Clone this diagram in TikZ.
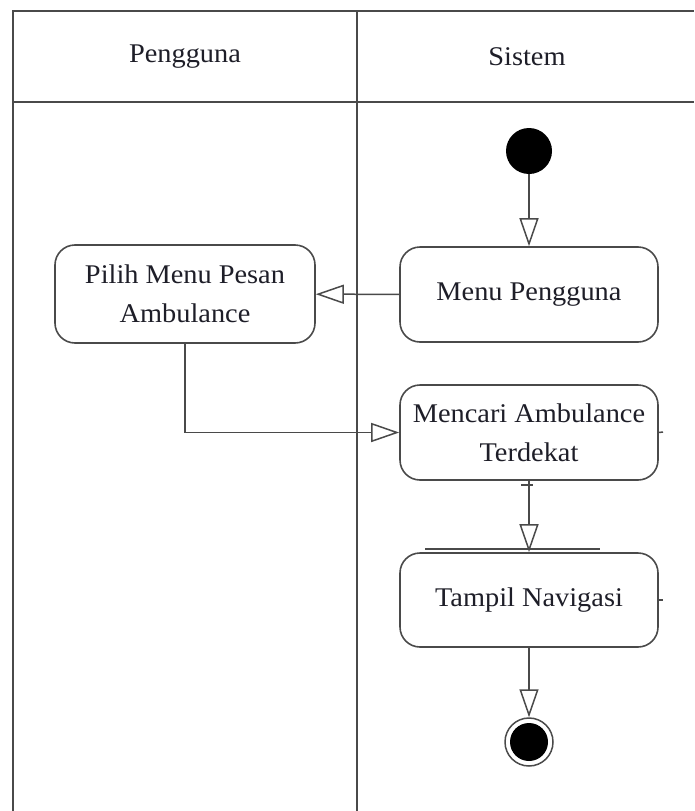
\documentclass[tikz,border=0pt]{standalone}
\usepackage{fontspec}
\setmainfont{Liberation Serif}[FakeStretch=1.05]
\usetikzlibrary{arrows.meta}
\definecolor{linegray}{HTML}{4A4A4A}
\definecolor{textdark}{HTML}{1E1E28}
\begin{document}
\begin{tikzpicture}[x=1pt,y=-1pt,
  lane/.style={draw=linegray,line width=2pt},
  action/.style={draw=linegray,line width=1.6pt,rounded corners=20pt,fill=white,
    align=center,text=textdark,inner sep=0pt,
    font=\fontsize{27}{39}\selectfont},
  flow/.style={draw=linegray,line width=1.5pt,
    -{Triangle[open,length=28pt,width=19pt,line width=1.5pt]}},
  tick/.style={draw=linegray,line width=1.5pt},
  lanetitle/.style={text=textdark,font=\fontsize{27}{32}\selectfont}]
\useasboundingbox (0,0) rectangle (694,811);
\fill[white] (0,0) rectangle (694,811);

% swimlane frame
\draw[lane] (13,811) -- (13,11) -- (694,11);
\draw[lane] (13,102) -- (694,102);
\draw[lane] (357,11) -- (357,811);
\node[lanetitle] (hUser) at (185,57) {Pengguna};
\node[lanetitle] (hSys) at (527,57) {Sistem};

% initial and final states
\node[circle,fill=black,minimum size=46pt,inner sep=0pt] (start) at (529,151) {};
\node[circle,draw=linegray,line width=1.5pt,fill=white,minimum size=48pt,inner sep=0pt] (finish) at (529,742) {};
\fill[black] (finish.center) circle[radius=19pt];

% actions
\node[action,minimum width=260pt,minimum height=98pt] (pilih) at (185,294)
  {Pilih Menu Pesan\\Ambulance};
\node[action,minimum width=258pt,minimum height=95pt] (menu) at (529,294.5)
  {Menu Pengguna};
\node[action,minimum width=258pt,minimum height=95pt] (cari) at (529,432.5)
  {Mencari Ambulance\\Terdekat};
\node[action,minimum width=258pt,minimum height=94pt] (tampil) at (529,600)
  {Tampil Navigasi};

% small marks around the system actions
\coordinate (barL) at (425,549);
\coordinate (barR) at (600,549);
\draw[tick,line width=2pt] (barL) -- (barR);
\coordinate (tkA) at (663,432);
\coordinate (tkB) at (663,600);
\coordinate (tkC1) at (521,485);
\coordinate (tkC2) at (533,485);
\draw[tick] (cari.east) -- (tkA);
\draw[tick] (tampil.east) -- (tkB);
\draw[tick] (tkC1) -- (tkC2);

% control flow
\draw[flow] (start) -- (menu);
\draw[flow] (menu) -- (pilih);
\draw[flow] (pilih.south) |- (cari.west);
\draw[flow] (cari) -- (tampil);
\draw[flow] (tampil) -- (finish);
\end{tikzpicture}
\end{document}
